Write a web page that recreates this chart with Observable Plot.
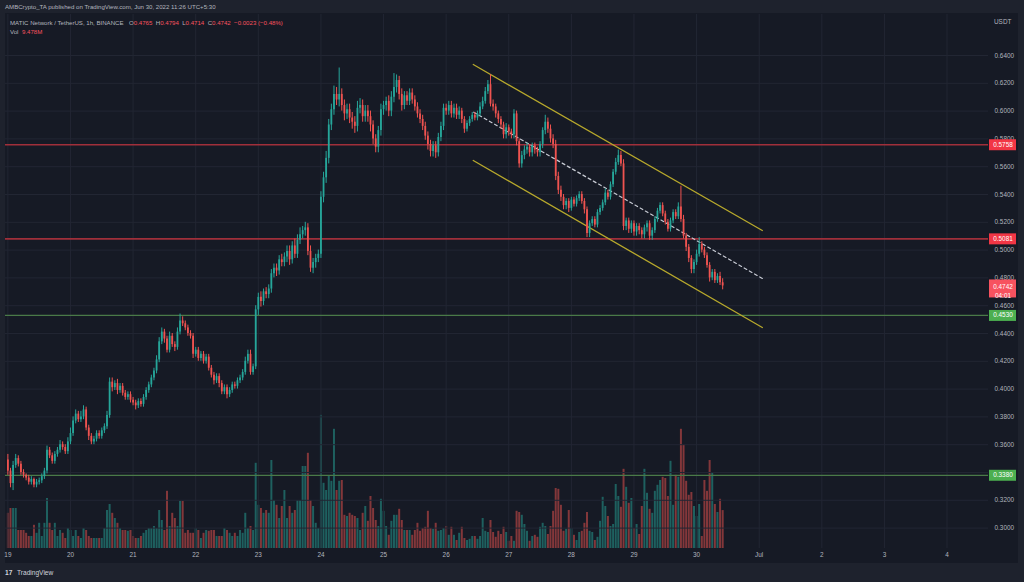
<!DOCTYPE html>
<html><head><meta charset="utf-8">
<script src="https://cdn.jsdelivr.net/npm/d3@7"></script>
<script src="https://cdn.jsdelivr.net/npm/@observablehq/plot@0.6"></script>
<style>
html,body{margin:0;padding:0;background:#1e222d;}
#wrap{position:relative;width:1024px;height:582px;overflow:hidden;background:#1e222d;font-family:"Liberation Sans",Arial,sans-serif;}
#panel{position:absolute;left:5px;top:13px;width:1013px;height:550px;background:#161a25;}
.layer{position:absolute;left:0;top:0;}
.t{position:absolute;white-space:nowrap;font-size:6.1px;line-height:8px;color:#b2b5be;}
.r{color:#f7525f;}
</style></head><body>
<div id="wrap">
  <div id="panel"></div>
  <div id="vol" class="layer"></div>
  <div id="price" class="layer"></div>
  <div id="col" class="layer" style="left:989px"></div>
  <div class="t" style="left:5px;top:3px">AMBCrypto_TA published on TradingView.com, Jun 30, 2022 11:26 UTC+5:30</div>
  <div class="t" style="left:10px;top:18.5px">MATIC Network / TetherUS, 1h, BINANCE</div>
  <div class="t" id="ohlc" style="left:129px;top:18.5px"></div>
  <div class="t" style="left:10px;top:27.5px">Vol</div>
  <div class="t r" id="volv" style="left:22px;top:27.5px"></div>
  <div class="t" style="left:994px;top:17.5px;font-size:6.4px">USDT</div>
  <div class="t" style="left:5px;top:569px;font-weight:bold;color:#d1d4dc;font-size:6.6px">17</div>
  <div class="t" style="left:17px;top:569px;color:#d1d4dc;font-size:6.6px">TradingView</div>
</div>
<script>
// ---- data (hourly candles from Jun 19 00:00, index = hours) ----
const firstOpen = 0.349;
const closes = [
  0.341,0.332,0.345,0.350,0.346,0.340,0.338,0.336,0.333,0.335,0.331,0.333,0.334,0.337,0.341,0.356,0.352,0.348,0.353,0.356,0.360,0.358,0.355,0.362,
  0.368,0.377,0.382,0.378,0.380,0.385,0.372,0.366,0.362,0.364,0.368,0.366,0.370,0.373,0.381,0.405,0.401,0.404,0.399,0.402,0.397,0.394,0.396,0.392,
  0.390,0.388,0.391,0.389,0.394,0.399,0.403,0.408,0.413,0.421,0.434,0.441,0.436,0.428,0.438,0.432,0.430,0.441,0.449,0.447,0.444,0.440,0.438,0.425,
  0.428,0.422,0.425,0.420,0.423,0.415,0.410,0.406,0.409,0.404,0.398,0.401,0.396,0.399,0.403,0.402,0.406,0.408,0.412,0.420,0.425,0.412,0.416,0.457,
  0.466,0.463,0.470,0.468,0.472,0.483,0.487,0.485,0.493,0.491,0.495,0.499,0.493,0.503,0.497,0.507,0.511,0.514,0.516,0.499,0.487,0.491,0.494,0.497,
  0.538,0.552,0.566,0.590,0.601,0.612,0.608,0.612,0.604,0.598,0.601,0.595,0.592,0.589,0.602,0.604,0.596,0.600,0.596,0.590,0.580,0.574,0.586,0.601,
  0.604,0.607,0.600,0.610,0.617,0.622,0.612,0.604,0.611,0.607,0.613,0.608,0.603,0.598,0.594,0.589,0.582,0.576,0.571,0.575,0.570,0.581,0.589,0.602,
  0.600,0.604,0.598,0.602,0.597,0.600,0.594,0.587,0.591,0.594,0.597,0.595,0.598,0.603,0.607,0.614,0.619,0.605,0.603,0.598,0.594,0.590,0.583,0.588,
  0.585,0.583,0.598,0.578,0.562,0.568,0.572,0.574,0.570,0.575,0.572,0.570,0.576,0.586,0.592,0.587,0.580,0.576,0.553,0.543,0.538,0.532,0.535,0.530,
  0.536,0.533,0.537,0.540,0.535,0.529,0.512,0.519,0.522,0.518,0.527,0.530,0.534,0.541,0.538,0.547,0.556,0.563,0.568,0.562,0.517,0.521,0.515,0.519,
  0.513,0.517,0.514,0.511,0.516,0.519,0.510,0.514,0.522,0.528,0.532,0.526,0.520,0.515,0.521,0.527,0.524,0.531,0.522,0.510,0.502,0.494,0.486,0.491,
  0.497,0.504,0.500,0.496,0.489,0.480,0.484,0.478,0.481,0.4765,0.4742
];
// wick lengths above / below the body, in thousandths of USDT
const upperWick = [
  4,2,3,3,2,2,2,1,2,2,1,2,2,2,2,3,2,2,2,2,3,2,2,3,
  4,3,3,2,4,3,2,2,2,2,2,2,2,2,3,3,3,2,3,2,2,2,2,2,
  2,2,2,2,2,2,2,2,2,3,3,3,2,2,3,2,2,3,5,3,2,2,2,2,
  2,2,2,2,2,2,2,2,2,2,2,2,2,2,2,2,2,2,2,3,3,3,2,3,
  3,4,2,3,3,3,3,3,3,4,3,4,4,3,5,4,5,3,4,3,4,3,3,3,
  4,4,5,4,4,6,5,19,4,4,4,4,4,4,5,5,4,4,4,4,3,3,3,4,
  3,3,4,4,10,4,3,4,3,3,3,3,3,3,3,3,3,3,3,3,3,3,3,3,
  3,3,3,3,3,3,2,2,2,2,2,2,2,3,3,3,3,7,3,2,2,2,2,3,
  2,2,3,2,2,3,3,3,2,2,2,2,2,2,5,3,3,3,3,3,3,2,2,2,
  2,2,2,2,2,2,2,2,2,2,2,2,2,3,2,2,2,3,4,3,3,2,2,2,
  2,2,2,2,2,2,2,2,2,2,2,2,2,2,2,2,2,3,15,3,2,2,2,2,
  3,5,2,2,2,2,2,2,2,3,2.9
];
const lowerWick = [
  3,3,5,2,2,2,2,2,2,2,2,2,2,2,2,2,2,2,2,2,2,2,2,2,
  2,2,2,2,2,2,2,3,2,2,2,2,2,2,2,2,3,2,3,2,2,2,2,2,
  2,3,2,2,2,2,2,2,2,2,2,2,3,2,2,2,3,2,2,2,2,2,2,3,
  2,2,2,2,2,2,2,3,2,3,2,2,3,2,2,2,2,2,2,2,2,2,2,2,
  4,4,3,3,3,3,3,4,3,3,3,4,4,3,3,3,3,3,4,3,3,4,4,3,
  3,4,4,4,4,4,4,5,4,5,4,4,5,5,4,4,4,4,4,5,4,4,4,4,
  4,4,4,4,4,4,4,4,3,3,3,3,3,3,3,3,3,4,4,4,4,3,3,3,
  3,3,3,3,3,3,3,3,2,2,2,2,2,2,2,2,2,2,3,3,3,3,3,3,
  3,3,3,3,3,3,3,3,3,3,3,3,3,3,3,3,3,3,3,3,3,3,3,3,
  2,2,2,2,2,3,3,3,2,2,2,2,2,2,2,2,2,2,2,2,3,3,3,3,
  3,3,3,3,3,3,3,3,2,2,2,2,2,2,2,2,2,2,2,2,3,3,3,3,
  2,2,2,2,2,3,2,2,2,2,2.8
];
// volume, millions
const volumes = [
  8.8,10,10,10,4.5,4.5,4.5,3.8,3,3,5.8,3.8,6.3,3,6.3,12.5,6.3,4.5,6.3,3,4.5,3.8,2.5,5,
  4.5,3,4.5,3,2.5,5,4.5,3,2.5,2.5,2.5,2.5,2.5,5,9.5,11,8.8,7.5,6.3,5,4.5,4.5,4.3,4.5,
  3,2.5,2.5,3,3.8,4.5,5,5,5.5,5,9.5,7,4.5,14.3,5.5,8.8,7.5,5.5,11.8,11.8,3.8,4.5,3.8,3.8,
  5,4.5,2.5,3.8,4.5,4.3,4.5,4.5,3,3,3,5,4.5,3.8,3,3.8,3,4.5,3.8,8.8,5,5.5,4.5,21.3,
  10.8,10,8.8,9.5,8.8,22,12,10.8,7.5,10.5,14.5,7.5,10.5,8.8,9.5,12,12,20.5,20.5,23.8,12,10.5,6.3,5,
  33.3,16.3,14.5,18,16.8,29.8,14.5,16.8,17,8.3,8,8.8,8.3,8,7.5,4.5,8.8,10.5,6.8,13,10,7,5.5,12.3,
  9.3,5.5,3.3,6.8,8.3,8.3,9.8,7,4.5,4.5,4.5,3.3,4.5,6.3,4.3,5,5.3,9.3,5,4.8,6.3,4.3,4.5,5,
  5.5,3.3,5.3,3.3,2,3.8,5.3,2.5,2,2.3,3,3,2.3,3,7.5,4.3,4,7,4,2.8,4.3,3.5,5.3,4,
  1.8,3,1.8,9.3,9,8.3,6,4.3,1.8,3,3.3,2.8,5.3,6.3,5.5,3.5,5.5,9.3,15,14.8,10.8,4.3,4.8,9.5,
  5,3.3,2,4,4.3,6.3,9,4.3,4,2,2.8,6.8,12.8,10.5,8,5.5,6,16,13,10.3,19.8,15.3,11.3,12.5,
  5,6,3.5,10.5,19.8,13.8,9.8,8.8,14.3,15.8,17,17.8,17.5,13,21.8,10.8,18.3,17.8,29.8,25.8,16.8,13.3,14,10.5,
  8,11,3,17,14.3,22,19,11,9,12.3,9.478
];
const dayTickLabels = ["19","20","21","22","23","24","25","26","27","28","29","30","Jul","2","3","4"];
const priceTicks = [0.30,0.32,0.34,0.36,0.38,0.40,0.42,0.44,0.46,0.48,0.50,0.52,0.54,0.56,0.58,0.60,0.62,0.64];
const resistanceLevels = [0.5758, 0.5081];
const supportLevels = [0.4530, 0.3380];
const countdown = "04:01";
// drawn channel: [hour index, price]
const channelUpper = [[178.4, 0.6335], [289.2, 0.5141]];
const channelLower = [[178.4, 0.5645], [289.2, 0.4443]];
const channelMid   = [[178.6, 0.5992], [289.2, 0.4796]];
const change = -0.0023, changePct = -0.48;

// ---- build ----
const GREEN = "#26a69a", RED = "#ef5350";
const candles = closes.map((c, i) => {
  const o = i === 0 ? firstOpen : closes[i - 1];
  return {i, o, c, h: Math.max(o, c) + upperWick[i] / 1000, l: Math.min(o, c) - lowerWick[i] / 1000, v: volumes[i], up: c >= o};
});
const ups = candles.filter(d => d.up), downs = candles.filter(d => !d.up);
const dayTicks = dayTickLabels.map((_, k) => k * 24);
const last = candles[candles.length - 1];
const allLevels = resistanceLevels.concat(supportLevels);
// tick labels hidden behind a level's price tag are not drawn
const visibleTickLabels = priceTicks.filter(t => allLevels.every(l => Math.abs(t - l) > 0.003));

const W = 1024, H = 582, MT = 14, MB = 34, ML = 5, MR = 36;
const xDomain = [-0.91, 375.9];
const yDomain = [0.28532, 0.6695];
const font = "Liberation Sans, Arial, sans-serif";
const baseStyle = {background: "transparent", fontFamily: font, fontSize: "6.4px", color: "#b2b5be", overflow: "visible"};

const volPlot = Plot.plot({
  width: W, height: H, marginTop: MT, marginBottom: MB, marginLeft: ML, marginRight: MR,
  x: {domain: xDomain, axis: null},
  y: {domain: [0, 133.5], axis: null},
  style: baseStyle,
  marks: [
    Plot.ruleX(ups, {x: "i", y1: 0, y2: "v", stroke: GREEN, strokeOpacity: 0.5, strokeWidth: 2}),
    Plot.ruleX(downs, {x: "i", y1: 0, y2: "v", stroke: RED, strokeOpacity: 0.5, strokeWidth: 2})
  ]
});
document.getElementById("vol").appendChild(volPlot);

const line = (data, opts) => Plot.line(data, {x: d => d[0], y: d => d[1], ...opts});
const pricePlot = Plot.plot({
  width: W, height: H, marginTop: MT, marginBottom: MB, marginLeft: ML, marginRight: MR,
  x: {domain: xDomain, axis: null},
  y: {domain: yDomain, axis: null},
  style: baseStyle,
  marks: [
    Plot.ruleY(priceTicks, {stroke: "#222633", strokeWidth: 1}),
    Plot.ruleX(dayTicks, {stroke: "#222633", strokeWidth: 1}),
    Plot.text(visibleTickLabels, {y: d => d, text: d => d.toFixed(4), frameAnchor: "right", textAnchor: "start", dx: 6, fill: "#b2b5be"}),
    Plot.text(dayTicks, {x: d => d, text: (d, k) => dayTickLabels[k], frameAnchor: "bottom", dy: 8, fill: "#b2b5be"}),
    Plot.ruleY(resistanceLevels, {stroke: "#a02f3a", strokeWidth: 1.6}),
    Plot.ruleY(supportLevels, {stroke: "#4a7a48", strokeWidth: 1.2}),
    line(channelUpper, {stroke: "#b8a92c", strokeWidth: 1.3}),
    line(channelLower, {stroke: "#b8a92c", strokeWidth: 1.3}),
    line(channelMid, {stroke: "#c8cbd4", strokeWidth: 1.2, strokeDasharray: "3,3"}),
    Plot.ruleX(ups, {x: "i", y1: "l", y2: "h", stroke: GREEN, strokeWidth: 1}),
    Plot.ruleX(downs, {x: "i", y1: "l", y2: "h", stroke: RED, strokeWidth: 1}),
    Plot.ruleX(ups, {x: "i", y1: "o", y2: "c", stroke: GREEN, strokeWidth: 1.8}),
    Plot.ruleX(downs, {x: "i", y1: "o", y2: "c", stroke: RED, strokeWidth: 1.8})
  ]
});
document.getElementById("price").appendChild(pricePlot);

const colPlot = Plot.plot({
  width: 35, height: H, marginTop: MT, marginBottom: MB, marginLeft: 0, marginRight: 8,
  y: {domain: yDomain, axis: null},
  style: baseStyle,
  marks: [
    Plot.ruleY(resistanceLevels, {stroke: "#f23645", strokeWidth: 11}),
    Plot.ruleY(supportLevels, {stroke: "#4caf50", strokeWidth: 11}),
    Plot.text(allLevels, {y: d => d, text: d => d.toFixed(4), frameAnchor: "middle", fill: "#ffffff"}),
    Plot.ruleY([last.c], {stroke: "#f7525f", strokeWidth: 18, dy: 2.5}),
    Plot.text([last.c], {y: d => d, text: d => d.toFixed(4) + "\n" + countdown, frameAnchor: "middle", lineHeight: 1.45, dy: 4.6, fill: "#ffffff"})
  ]
});
document.getElementById("col").appendChild(colPlot);

// legend texts
const f4 = d3.format(".4f");
const sgn = v => (v < 0 ? "\u2212" : "+");
document.getElementById("ohlc").innerHTML =
  `O<span class="r">${f4(last.o)}</span>&nbsp; H<span class="r">${f4(last.h)}</span>&nbsp; L<span class="r">${f4(last.l)}</span>&nbsp; C<span class="r">${f4(last.c)}</span>&nbsp; <span class="r">${sgn(change)}${f4(Math.abs(change))} (${sgn(changePct)}${Math.abs(changePct).toFixed(2)}%)</span>`;
document.getElementById("volv").textContent = d3.format(".3f")(last.v) + "M";
</script>
</body></html>
